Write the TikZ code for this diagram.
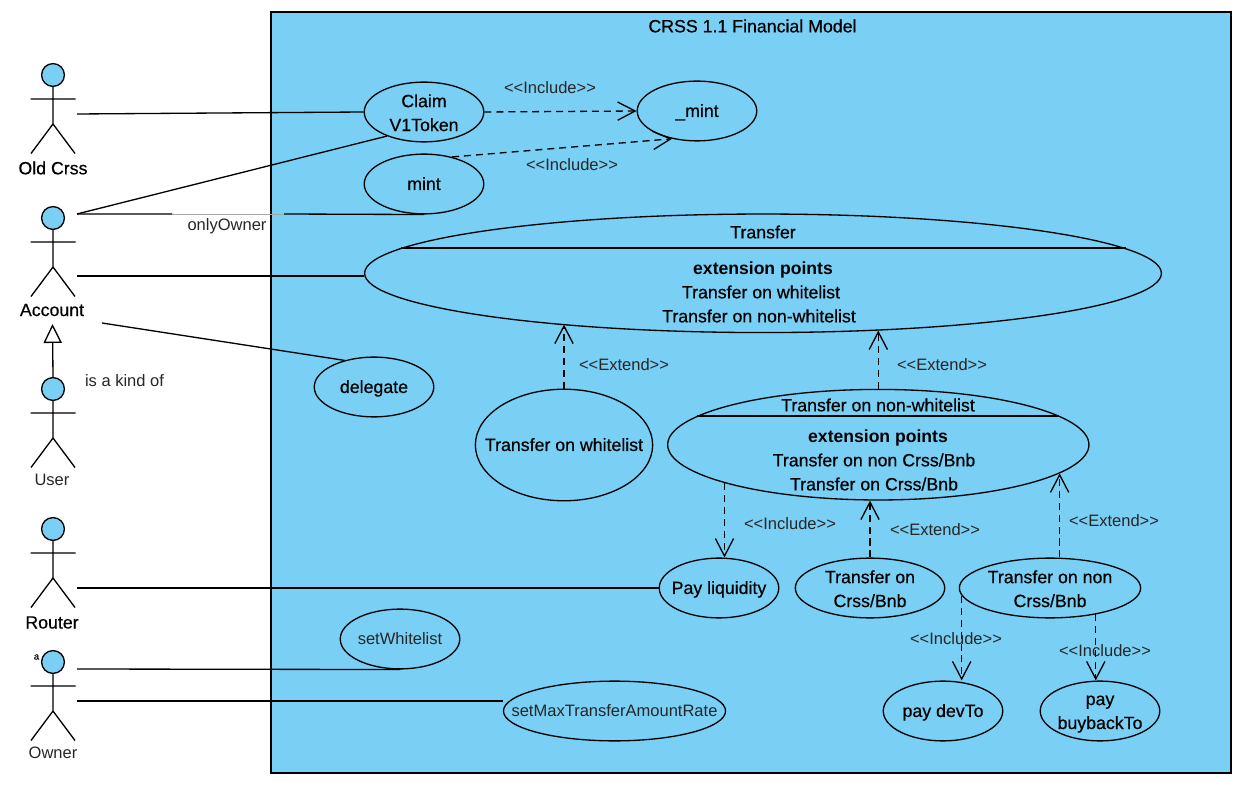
\documentclass[tikz,border=0pt]{standalone}
\usepackage{fontspec}
\setmainfont{Liberation Sans}
\newfontfamily\medfont[FakeBold=0.5]{Liberation Sans}
\usetikzlibrary{shapes.geometric,arrows.meta}
\definecolor{umlblue}{RGB}{122,207,245}
\newcommand{\inc}{<{}<Include>{}>}
\newcommand{\ext}{<{}<Extend>{}>}
\newcommand{\lift}[1]{\rule{0pt}{#1pt}}
\tikzset{
	umlline/.style={line width=0.75pt, black},
	wpx/.style={minimum width=#1*0.5669pt},
	hpx/.style={minimum height=#1*0.5669pt},
	usecase/.style={draw, umlline, ellipse, fill=umlblue, inner xsep=-16pt, inner ysep=-5pt, wpx=120, hpx=60, align=center, font=\fontsize{10.1}{13.6}\selectfont\medfont},
	usecaselight/.style={usecase, font=\fontsize{9.4}{13.6}\selectfont, text=black!85},
	oneline/.style={text height=6.8pt, text depth=0pt},
	boldlabel/.style={inner sep=0pt, align=center, font=\fontsize{10.1}{13.6}\selectfont\medfont},
	pointslabel/.style={boldlabel, font=\fontsize{10}{13.6}\selectfont\bfseries},
	lightlabel/.style={inner sep=0pt, font=\fontsize{9.4}{11}\selectfont, text=black!85},
	dep/.style={umlline, dash pattern=on 4pt off 2.8pt, -{Straight Barb[length=10pt,width=10.4pt]}},
	pics/actor/.style={code={
		\node[draw, umlline, circle, fill=umlblue, inner sep=0pt, minimum size=13pt] (-head) at (0,0) {};
		\draw[umlline] (-head.south) -- (0,49) (-22.5,24) -- (22.5,24) (-22,78.5) -- (0,49) -- (22,78.5);
	}}
}
\begin{document}
\begin{tikzpicture}[x=0.02cm, y=-0.02cm]
	\useasboundingbox (0,0) rectangle (1246,786);
	\draw[umlline, fill=umlblue] (271,12) rectangle (1231,773);
	\node[boldlabel] (title) at (752.5,26) {CRSS 1.1 Financial Model};

	\pic (oldcrss) at (53,75) {actor};
	\pic (account) at (53,218) {actor};
	\pic (user) at (53,389) {actor};
	\pic (router) at (53,529) {actor};
	\pic (owner) at (53,662) {actor};
	\node[boldlabel] (oldcrssname) at (53,168) {Old Crss};
	\node[boldlabel] (accountname) at (52,310) {Account};
	\node[lightlabel] (username) at (52,480) {User};
	\node[boldlabel] (routername) at (52,622.5) {Router};
	\node[lightlabel] (ownername) at (53,753) {Owner};
	\node[inner sep=0pt, font=\fontsize{5.5}{6}\selectfont\medfont] (ownermark) at (36.5,657) {a};

	\node[usecase] (claim) at (424,112) {\lift{8.2}Claim\\V1Token};
	\node[usecase, oneline] (mintcore) at (697,111) {\_mint};
	\node[usecase, oneline] (mint) at (424,184) {mint};
	\node[usecase, wpx=800, hpx=119] (transfer) at (763,273.3) {};
	\node[usecase, oneline] (delegate) at (374,387) {delegate};
	\node[usecase, oneline, wpx=178, hpx=112] (whitelist) at (564,445) {Transfer on whitelist};
	\node[usecase, wpx=423, hpx=111] (nonwhitelist) at (878.3,444.7) {};
	\node[usecase, oneline] (liquidity) at (719,588) {Pay liquidity};
	\node[usecase, wpx=150] (crssbnb) at (870,588) {\lift{8.2}Transfer on\\Crss/Bnb};
	\node[usecase, wpx=182] (noncrssbnb) at (1050,588) {\lift{8.2}Transfer on non\\Crss/Bnb};
	\node[usecaselight, oneline] (setwhitelist) at (400,639) {setWhitelist};
	\node[usecaselight, oneline, wpx=223] (setmax) at (614.5,711) {setMaxTransferAmountRate};
	\node[usecase, oneline] (devto) at (943,711) {pay devTo};
	\node[usecase] (buyback) at (1100,711) {\lift{9}pay\\buybackTo};

	\draw[umlline] (transfer.176.4) -- ++(725,0);
	\node[boldlabel] (transfername) at (763,232) {Transfer};
	\node[pointslabel] (transferpoints) at (763,269.5) {extension points};
	\node[boldlabel] (transferone) at (761,292) {Transfer on whitelist};
	\node[boldlabel] (transfertwo) at (759,316) {Transfer on non-whitelist};
	\draw[umlline] (nonwhitelist.171.3) -- ++(362,0);
	\node[boldlabel] (nonname) at (878,405) {Transfer on non-whitelist};
	\node[pointslabel] (nonpoints) at (878,437.5) {extension points};
	\node[boldlabel] (nonone) at (874,460) {Transfer on non Crss/Bnb};
	\node[boldlabel] (nontwo) at (874,484) {Transfer on Crss/Bnb};

	\coordinate (oldcrssend) at (77,114);
	\coordinate (accounttop) at (77,214);
	\coordinate (gapstart) at (172,214);
	\coordinate (gapend) at (284,214);
	\coordinate (accountmid) at (77,276);
	\coordinate (accountlow) at (102,323);
	\coordinate (routerend) at (77,588);
	\coordinate (ownertop) at (77,669);
	\coordinate (ownerlow) at (77,701);

	\draw[umlline] (oldcrssend) -- (claim.west);
	\draw[umlline] (accounttop) -- (claim.213);
	\draw[line width=0.4pt, black!35] (gapstart) -- (gapend);
	\draw[umlline] (accounttop) -- (gapstart) (gapend) -- (mint.south);
	\draw[umlline] (accountmid) -- (accountmid -| transfer.west);
	\draw[umlline] (accountlow) -- (delegate.138);
	\draw[umlline] (routerend) -- (liquidity.west);
	\draw[umlline] (ownertop) -- (setwhitelist.south);
	\draw[umlline] (ownerlow) -- (ownerlow -| setmax.west);
	\draw[umlline, -{Triangle[open, fill=white, length=10.8pt, width=10.4pt]}] (user-head.north) -- (52.5,324);

	\draw[dep] (claim.east) -- (mintcore.west);
	\draw[dep] (mint.44) -- (mintcore.228);
	\draw[dep] (whitelist.north) -- (whitelist.north |- transfer.194.2);
	\draw[dep] (nonwhitelist.north) -- (nonwhitelist.north |- transfer.-26);
	\draw[dep] (nonwhitelist.194.35) -- (nonwhitelist.194.35 |- liquidity.north);
	\draw[dep] (crssbnb.north) -- (crssbnb.north |- nonwhitelist.south);
	\draw[dep] (nonwhitelist.-9 |- noncrssbnb.north) -- (nonwhitelist.-9);
	\draw[dep] (noncrssbnb.185) -- (noncrssbnb.185 |- devto.north);
	\draw[dep] (noncrssbnb.-30.6) -- (noncrssbnb.-30.6 |- buyback.north);

	\node[lightlabel] (owneronly) at (227,226) {onlyOwner};
	\node[lightlabel] (kindof) at (124.5,381) {is a kind of};
	\node[lightlabel] (incone) at (550,88) {\inc};
	\node[lightlabel] (inctwo) at (572,165) {\inc};
	\node[lightlabel] (extone) at (624,365) {\ext};
	\node[lightlabel] (exttwo) at (942,365) {\ext};
	\node[lightlabel] (incthree) at (790,524) {\inc};
	\node[lightlabel] (extthree) at (935,530) {\ext};
	\node[lightlabel] (extfour) at (1114,521) {\ext};
	\node[lightlabel] (incfour) at (956,639) {\inc};
	\node[lightlabel] (incfive) at (1105,651) {\inc};
\end{tikzpicture}
\end{document}
